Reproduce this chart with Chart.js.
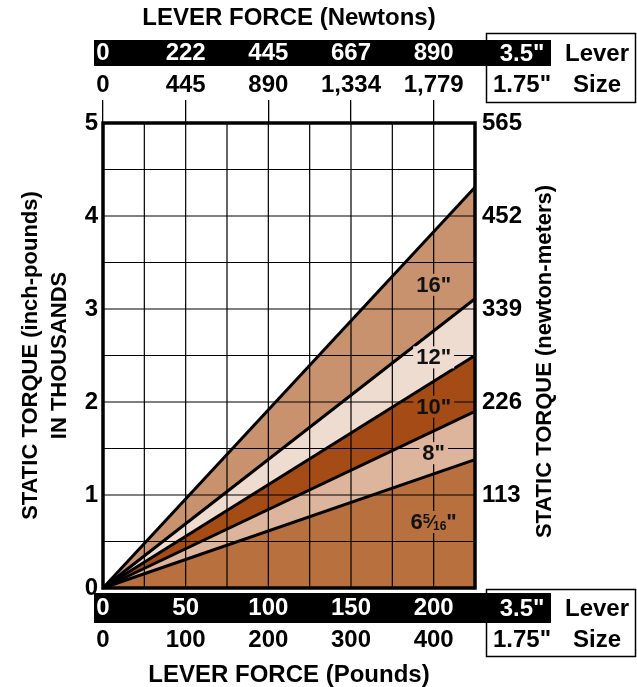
<!DOCTYPE html>
<html><head><meta charset="utf-8">
<script src="https://cdn.jsdelivr.net/npm/chart.js@4/dist/chart.umd.min.js"></script>
<style>html,body{margin:0;padding:0;background:#fff;}canvas{display:block;}</style>
</head><body>
<canvas id="c" width="637" height="687"></canvas>
<script>
const FONT = "'Liberation Sans', Arial, Helvetica, sans-serif";

// ---- data ----
const leverSizes = ['6 5/16"', '8"', '10"', '12"', '16"'];
const forcePounds = [0, 225];
const torque6516 = [0, 1.38];
const torque8 = [0, 1.90];
const torque10 = [0, 2.50];
const torque12 = [0, 3.11];
const torque16 = [0, 4.31];
const poundsTicks35 = ['0', '50', '100', '150', '200'];
const poundsTicks175 = ['0', '100', '200', '300', '400'];
const newtonTicks35 = ['0', '222', '445', '667', '890'];
const newtonTicks175 = ['0', '445', '890', '1,334', '1,779'];
const torqueTicksInLb = ['0', '1', '2', '3', '4', '5'];
const torqueTicksNm = ['', '113', '226', '339', '452', '565'];
const rightTitle = 'STATIC TORQUE (newton-meters)';
const labelForce = 200;
const labelTorque = [0.71, 1.45, 1.95, 2.48, 3.26];

// ---- styles ----
const bandColors = ['#b8703f', '#dcb59c', '#a54b16', '#efdcd0', '#c8926e'];
const series = [torque6516, torque8, torque10, torque12, torque16];
const tickFont = {family: FONT, size: 24, weight: 'bold', lineHeight: 1};

const decor = {
  id: 'decor',
  beforeDraw(chart) {
    const ctx = chart.ctx, a = chart.chartArea;
    ctx.save();
    ctx.fillStyle = '#fff';
    ctx.fillRect(0, 0, chart.width, chart.height);
    ctx.fillStyle = '#000';
    ctx.fillRect(a.left - 9, 40, a.right + 76 - (a.left - 9), 26);
    ctx.fillRect(a.left - 9, 593, a.right + 76 - (a.left - 9), 30);
    ctx.strokeStyle = '#000';
    ctx.lineWidth = 1.5;
    ctx.strokeRect(486.5, 33.5, 149, 69);
    ctx.strokeRect(486.5, 589.5, 149, 67);
    ctx.restore();
  },
  beforeDatasetsDraw(chart) {
    const ctx = chart.ctx, a = chart.chartArea, x = chart.scales.x, y = chart.scales.y;
    ctx.save();
    ctx.strokeStyle = '#000';
    ctx.lineWidth = 1.2;
    ctx.beginPath();
    x.ticks.forEach(t => { const p = x.getPixelForValue(t.value); ctx.moveTo(p, a.top); ctx.lineTo(p, a.bottom); });
    y.ticks.forEach(t => { const p = y.getPixelForValue(t.value); ctx.moveTo(a.left, p); ctx.lineTo(a.right, p); });
    ctx.stroke();
    ctx.restore();
  },
  afterDatasetsDraw(chart) {
    const ctx = chart.ctx, a = chart.chartArea, x = chart.scales.x, y = chart.scales.y;
    ctx.save();
    ctx.strokeStyle = '#000';
    ctx.lineWidth = 3.5;
    ctx.strokeRect(a.left, a.top, a.right - a.left, a.bottom - a.top);
    ctx.textBaseline = 'middle';
    labelTorque.forEach((v, i) => {
      const px = x.getPixelForValue(labelForce), py = y.getPixelForValue(v);
      let parts;
      if (i === 0) {
        parts = [{t: '6', s: 22, dy: 0}, {t: '5', s: 13, dy: -4}, {t: '\u2044', s: 18, dy: 0}, {t: '16', s: 12, dy: 4}, {t: '"', s: 22, dy: 0}];
      } else {
        parts = [{t: leverSizes[i], s: 22, dy: 0}];
      }
      let w = 0;
      parts.forEach(p => { ctx.font = 'bold ' + p.s + 'px ' + FONT; p.w = ctx.measureText(p.t).width; w += p.w; });
      ctx.fillStyle = bandColors[i];
      ctx.fillRect(px - w / 2 - 3, py - 11, w + 6, 22);
      ctx.fillStyle = '#111';
      let cx = px - w / 2;
      ctx.textAlign = 'left';
      parts.forEach(p => { ctx.font = 'bold ' + p.s + 'px ' + FONT; ctx.fillText(p.t, cx, py + 1 + p.dy); cx += p.w; });
    });
    ctx.restore();
  },
  afterDraw(chart) {
    const ctx = chart.ctx, a = chart.chartArea;
    ctx.save();
    ctx.font = 'bold 24px ' + FONT;
    ctx.textAlign = 'center';
    ctx.textBaseline = 'middle';
    const c1 = a.right + 47, c2 = a.right + 122;
    ctx.fillStyle = '#fff';
    ctx.fillText('3.5"', c1, 54);
    ctx.fillText('3.5"', c1, 609);
    ctx.fillStyle = '#000';
    ctx.fillText('Lever', c2, 54);
    ctx.fillText('Lever', c2, 609);
    ctx.fillText('1.75"', c1, 85);
    ctx.fillText('1.75"', c1, 640);
    ctx.fillText('Size', c2, 85);
    ctx.fillText('Size', c2, 640);
    // right axis title, reading bottom-to-top
    ctx.font = 'bold 22px ' + FONT;
    ctx.translate(a.right + 70, (a.top + a.bottom) / 2 + 6);
    ctx.rotate(-Math.PI / 2);
    ctx.fillText(rightTitle, 0, 0);
    ctx.restore();
  }
};

new Chart(document.getElementById('c'), {
  type: 'line',
  data: {
    datasets: series.map((s, i) => ({
      label: leverSizes[i],
      data: forcePounds.map((f, j) => ({x: f, y: s[j]})),
      borderColor: '#000',
      borderWidth: 3,
      pointRadius: 0,
      tension: 0,
      fill: i === 0 ? 'origin' : '-1',
      backgroundColor: bandColors[i],
      clip: false
    }))
  },
  options: {
    responsive: false,
    animation: false,
    devicePixelRatio: 1,
    layout: {padding: 0},
    plugins: {legend: {display: false}, tooltip: {enabled: false}, filler: {drawTime: 'beforeDatasetsDraw'}},
    scales: {
      x: {
        type: 'linear', position: 'bottom', min: 0, max: 225,
        ticks: {stepSize: 25, autoSkip: false, maxRotation: 0, color: '#fff', font: tickFont, padding: 8,
          callback: v => (v % 50 === 0 && poundsTicks35[v / 50] !== undefined) ? poundsTicks35[v / 50] : ''},
        grid: {display: false, drawTicks: false}, border: {display: false},
        afterFit: s => { s.height = 35; }
      },
      x2: {
        type: 'linear', position: 'bottom', min: 0, max: 450,
        ticks: {stepSize: 100, includeBounds: false, autoSkip: false, maxRotation: 0, color: '#000', font: tickFont, padding: 5,
          callback: v => poundsTicks175[Math.round(v / 100)]},
        grid: {display: false, drawTicks: false}, border: {display: false},
        title: {display: true, text: 'LEVER FORCE (Pounds)', color: '#000', font: {family: FONT, size: 24, weight: 'bold', lineHeight: 1}, padding: {top: 0, bottom: 0}},
        afterFit: s => { s.height = 64; }
      },
      x4: {
        type: 'linear', position: 'top', min: 0, max: 225,
        ticks: {stepSize: 50, includeBounds: false, autoSkip: false, maxRotation: 0, color: '#000', font: tickFont, padding: 3,
          callback: v => newtonTicks175[Math.round(v / 50)]},
        grid: {display: true, drawOnChartArea: false, drawTicks: true, tickLength: 23, color: '#000', lineWidth: 1.3},
        border: {display: false},
        afterFit: s => { s.height = 57; }
      },
      x3: {
        type: 'linear', position: 'top', min: 0, max: 225,
        ticks: {stepSize: 50, includeBounds: false, autoSkip: false, maxRotation: 0, color: '#fff', font: tickFont, padding: 1,
          callback: v => newtonTicks35[Math.round(v / 50)]},
        grid: {display: false, drawTicks: false}, border: {display: false},
        title: {display: true, text: 'LEVER FORCE (Newtons)', color: '#000', font: {family: FONT, size: 24, weight: 'bold', lineHeight: 1}, padding: {top: 6, bottom: 0}},
        afterFit: s => { s.height = 66; }
      },
      y: {
        type: 'linear', position: 'left', min: 0, max: 5,
        ticks: {stepSize: 0.5, autoSkip: false, color: '#000', font: tickFont, padding: 5,
          callback: v => Number.isInteger(v) ? torqueTicksInLb[v] : ''},
        grid: {display: false, drawTicks: false}, border: {display: false},
        title: {display: true, text: ['STATIC TORQUE (inch-pounds)', 'IN THOUSANDS'], color: '#000', font: {family: FONT, size: 22, weight: 'bold', lineHeight: '29px'}, padding: {top: 16, bottom: 0}},
        afterFit: s => { s.width = 103; }
      },
      y2: {
        type: 'linear', position: 'right', min: 0, max: 5,
        ticks: {stepSize: 1, autoSkip: false, color: '#000', font: tickFont, padding: 7,
          callback: (v, i) => torqueTicksNm[i]},
        grid: {display: false, drawTicks: false}, border: {display: false},
        title: {display: false},
        afterFit: s => { s.width = 162; }
      }
    }
  },
  plugins: [decor]
});
</script>
</body></html>
